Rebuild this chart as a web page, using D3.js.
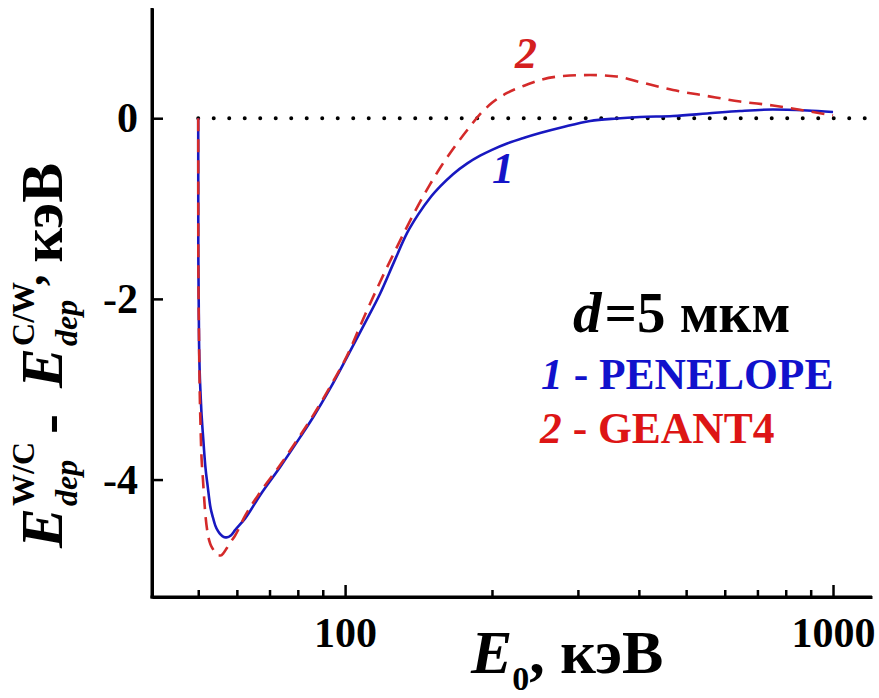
<!DOCTYPE html>
<html>
<head>
<meta charset="utf-8">
<script src="https://cdn.jsdelivr.net/npm/d3@7"></script>
<style>
  body { margin: 0; background: #fff; }
  text { font-family: "Liberation Serif", "Times New Roman", serif; font-weight: bold; }
</style>
</head>
<body>
<svg id="chart" width="879" height="698"></svg>
<script>
// energy grid, keV
var energy = [50, 50.02, 50.2, 50.6, 51.2, 51.7, 52.3, 52.9, 53.6, 54.2, 54.9, 55.6, 56.4, 57.2, 58.3, 59.5,
  62.4, 67, 73.6, 80.9, 86, 93, 100.9, 110, 118, 126, 134, 141, 149.4, 157, 166.4, 178, 189.1, 200,
  214.8, 232, 250.9, 280, 317.8, 360, 402, 470, 552, 645, 753, 885, 1000];

// 1 - PENELOPE
var penelope = [0, -1.5, -2.5, -3.1, -3.55, -3.85, -4.08, -4.29, -4.42, -4.51, -4.57, -4.61, -4.635, -4.64, -4.62, -4.56,
  -4.43, -4.17, -3.86, -3.53, -3.31, -3.0, -2.645, -2.26, -1.94, -1.59, -1.27, -1.07, -0.88, -0.75, -0.62, -0.50, -0.415, -0.35,
  -0.28, -0.219, -0.164, -0.097, -0.031, -0.003, 0.013, 0.024, 0.052, 0.08, 0.096, 0.085, 0.069];

// 2 - GEANT4
var geant4 = [0, -1.5, -2.5, -3.5, -4.05, -4.38, -4.6, -4.71, -4.77, -4.81, -4.84, -4.84, -4.81, -4.76, -4.69, -4.62,
  -4.40, -4.14, -3.84, -3.51, -3.29, -2.98, -2.63, -2.17, -1.81, -1.49, -1.20, -0.97, -0.73, -0.54, -0.34, -0.13, 0.045, 0.17,
  0.28, 0.357, 0.423, 0.467, 0.478, 0.462, 0.40, 0.312, 0.246, 0.185, 0.141, 0.08, 0.03];

var xMajor = [100, 1000];
var xMinor = [50, 60, 70, 80, 90, 200, 300, 400, 500, 600, 700, 800, 900];
var yTicks = [0, -2, -4];
var xExtent = [40.2, 1202];
var yExtent = [-5.3, 1.22];

var svg = d3.select("#chart");

var x = d3.scaleLog().domain(xExtent).range([152, 872]);
var y = d3.scaleLinear().domain(yExtent).range([597, 8]);

// zero reference line
svg.append("line")
  .attr("x1", x(50)).attr("x2", x(xExtent[1]))
  .attr("y1", y(0)).attr("y2", y(0))
  .attr("stroke", "#000")
  .attr("stroke-width", 4)
  .attr("stroke-linecap", "round")
  .attr("stroke-dasharray", "0 15.5");

var line = d3.line()
  .x((d, i) => x(energy[i]))
  .y(d => y(d))
  .curve(d3.curveMonotoneX);

svg.append("path")
  .datum(penelope)
  .attr("d", line)
  .attr("fill", "none")
  .attr("stroke", "#1818c0")
  .attr("stroke-width", 2.6);

svg.append("path")
  .datum(geant4)
  .attr("d", line)
  .attr("fill", "none")
  .attr("stroke", "#d42a2a")
  .attr("stroke-width", 2.6)
  .attr("stroke-dasharray", "13 8");

// axes, ticks pointing inward
var xAxis = svg.append("g").attr("transform", "translate(0,597)");
xAxis.call(d3.axisBottom(x).tickValues(xMinor).tickSize(-7).tickSizeOuter(0).tickFormat(""));
xAxis.call(g => g.select(".domain").remove());
var xAxisMajor = svg.append("g").attr("transform", "translate(0,597)")
  .call(d3.axisBottom(x).tickValues(xMajor).tickSize(-12).tickSizeOuter(0).tickFormat(d => String(d)));
xAxisMajor.selectAll("text")
  .attr("y", 20)
  .style("font-size", "42px")
  .style("font-family", "Liberation Serif")
  .attr("fill", "#000");

var yAxis = svg.append("g").attr("transform", "translate(152,0)")
  .call(d3.axisLeft(y).tickValues(yTicks).tickSize(-11).tickSizeOuter(0)
    .tickFormat(d => (d < 0 ? "-" : "") + Math.abs(d)));
yAxis.selectAll("text")
  .attr("x", -14)
  .style("font-size", "42px")
  .style("font-family", "Liberation Serif")
  .attr("fill", "#000");

svg.selectAll(".domain").attr("stroke-width", 3).attr("stroke", "#000");
svg.selectAll(".tick line").attr("stroke-width", 2.5).attr("stroke", "#000");

// frame lines meeting at the corner
svg.append("line")
  .attr("x1", 152).attr("x2", 152).attr("y1", 8).attr("y2", 598.5)
  .attr("stroke", "#000").attr("stroke-width", 3);
svg.append("line")
  .attr("x1", 150.5).attr("x2", 872).attr("y1", 597).attr("y2", 597)
  .attr("stroke", "#000").attr("stroke-width", 3);

// curve numbers
svg.append("text").attr("x", 492).attr("y", 183)
  .style("font-size", "44px").style("font-style", "italic")
  .attr("fill", "#1414c8").text("1");
svg.append("text").attr("x", 515).attr("y", 68)
  .style("font-size", "44px").style("font-style", "italic")
  .attr("fill", "#d42020").text("2");

// legend
var t1 = svg.append("text").attr("x", 573).attr("y", 332).style("font-size", "57px").attr("fill", "#000");
t1.append("tspan").style("font-style", "italic").text("d");
t1.append("tspan").attr("dx", 3).text("=5 мкм");

var t2 = svg.append("text").attr("x", 541).attr("y", 389).style("font-size", "43.5px").attr("fill", "#1111cc");
t2.append("tspan").style("font-style", "italic").text("1");
t2.append("tspan").text(" - PENELOPE");

var t3 = svg.append("text").attr("x", 540).attr("y", 443).style("font-size", "43.5px").attr("fill", "#dd1515");
t3.append("tspan").style("font-style", "italic").text("2");
t3.append("tspan").text(" - GEANT4");

// x title
var xt = svg.append("text").attr("x", 471).attr("y", 673).style("font-size", "62px").attr("fill", "#000");
xt.append("tspan").style("font-style", "italic").text("E");
xt.append("tspan").attr("dy", 17).style("font-size", "34px").text("0");
xt.append("tspan").attr("dy", -17).text(", кэВ");

// y title, rotated, built piece by piece
var yt = svg.append("g").attr("transform", "translate(62,548) rotate(-90)");
var cursor = 0;
function piece(str, size, italic, dy, advance) {
  var el = yt.append("text")
    .attr("x", cursor).attr("y", dy)
    .style("font-size", size + "px")
    .style("font-style", italic ? "italic" : "normal")
    .attr("fill", "#000")
    .text(str);
  var w = el.node().getComputedTextLength();
  if (advance) cursor += w;
  return w;
}
piece("E", 60, true, 0, true);
cursor += 2;
var w1 = Math.max(piece("dep", 32, true, 15, false), piece("W/C", 32, false, -28, false));
cursor += w1 + 8;
piece("-", 60, false, 6, true);
cursor += 26;
piece("E", 60, true, 0, true);
cursor += 2;
var w2 = Math.max(piece("dep", 32, true, 15, false), piece("C/W", 32, false, -28, false));
cursor += w2 - 4;
piece(",", 46, false, -19, true);
cursor += 12;
piece("кэВ", 60, false, 0, true);
</script>
</body>
</html>
